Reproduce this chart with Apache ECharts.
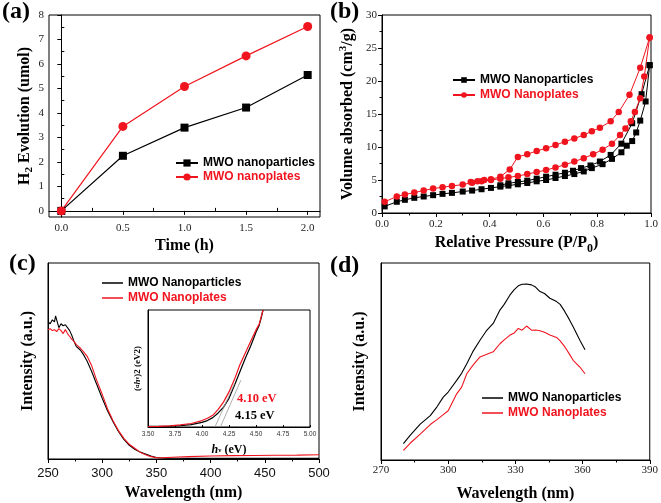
<!DOCTYPE html>
<html>
<head>
<meta charset="utf-8">
<script src="https://cdn.jsdelivr.net/npm/echarts@6/dist/echarts.min.js"></script>
<style>
html,body{margin:0;padding:0;background:#fff;}
#chart{width:661px;height:503px;}
</style>
</head>
<body>
<div id="chart"></div>
<script>
// ---------- Panel (a): H2 evolution ----------
const timeH = [0, 0.5, 1.0, 1.5, 2.0];
const h2Particles = [0, 2.25, 3.4, 4.22, 5.55];
const h2Plates = [0, 3.45, 5.08, 6.33, 7.53];
const aTicksX = [0, 0.5, 1.0, 1.5, 2.0];
const aMinorX = [0.25, 0.75, 1.25, 1.75];
const aTicksY = [0, 1, 2, 3, 4, 5, 6, 7, 8];
const aMinorY = [0.5, 1.5, 2.5, 3.5, 4.5, 5.5, 6.5, 7.5];

// ---------- Panel (b): N2 isotherms ----------
const pPartAds = [0.01,0.055,0.085,0.12,0.155,0.19,0.225,0.26,0.30,0.335,0.37,0.405,0.44,0.47,0.505,0.54,0.575,0.61,0.645,0.68,0.715,0.75,0.78,0.82,0.855,0.89,0.91,0.93,0.945,0.96,0.98,0.995];
const vPartAds = [1.0,1.7,2.0,2.3,2.5,2.7,2.9,3.05,3.25,3.4,3.6,3.8,4.0,4.15,4.35,4.55,4.8,5.0,5.3,5.6,5.9,6.3,6.8,7.4,8.2,9.2,10.2,10.9,12.2,14.0,16.9,22.4];
const pPartDes = [0.995,0.965,0.93,0.89,0.85,0.81,0.775,0.74,0.71,0.68,0.645,0.61,0.575,0.54,0.505,0.47,0.44];
const vPartDes = [22.4,18.0,13.6,10.5,8.8,7.8,7.2,6.8,6.4,6.1,5.8,5.5,5.2,4.9,4.7,4.5,4.2];
const pPlateAds = [0.01,0.055,0.085,0.12,0.155,0.19,0.225,0.26,0.30,0.335,0.37,0.405,0.44,0.47,0.505,0.54,0.575,0.61,0.645,0.68,0.715,0.75,0.785,0.82,0.855,0.885,0.905,0.925,0.94,0.96,0.975,0.995];
const vPlateAds = [1.7,2.5,2.8,3.1,3.4,3.7,3.9,4.1,4.3,4.6,4.8,5.0,5.2,5.4,5.6,5.9,6.2,6.5,6.9,7.3,7.8,8.3,8.9,9.6,10.5,11.8,12.8,13.9,15.3,17.4,20.7,26.6];
const pPlateDes = [0.995,0.96,0.92,0.88,0.85,0.81,0.78,0.75,0.715,0.68,0.645,0.61,0.575,0.54,0.505,0.475,0.44,0.405,0.38,0.355,0.33];
const vPlateDes = [26.6,22.0,17.9,15.3,13.9,12.9,12.4,11.8,11.3,10.8,10.3,9.8,9.4,8.9,8.5,6.6,5.5,5.1,5.0,4.8,4.7];

// ---------- Panel (c): UV-vis absorption ----------
const wlC = [250,252,254,256,257,258,260,262,264,266,268,270,272,274,276,278,280,283,286,290,295,300,305,310,315,320,325,330,335,340,345,350,355,360,370,380,400,420,440,460,480,500];
const absPart = [0.70,0.69,0.71,0.70,0.73,0.72,0.67,0.69,0.68,0.685,0.67,0.655,0.63,0.60,0.575,0.565,0.555,0.53,0.50,0.45,0.38,0.31,0.245,0.19,0.14,0.10,0.07,0.05,0.035,0.025,0.015,0.008,0.005,0.004,0.004,0.003,0.003,0.003,0.003,0.003,0.003,0.003];
const absPlate = [0.66,0.665,0.655,0.66,0.66,0.65,0.665,0.655,0.64,0.66,0.64,0.625,0.61,0.60,0.585,0.575,0.565,0.545,0.525,0.48,0.40,0.33,0.255,0.195,0.145,0.105,0.075,0.055,0.035,0.022,0.012,0.006,0.006,0.008,0.01,0.012,0.015,0.017,0.018,0.019,0.02,0.022];

// ---------- Inset: Tauc plot ----------
const evInset = [3.50,3.60,3.70,3.80,3.90,4.00,4.05,4.10,4.15,4.20,4.25,4.30,4.35,4.40,4.45,4.50,4.53,4.55,4.565];
const taucPart = [0.005,0.005,0.007,0.012,0.02,0.04,0.055,0.08,0.12,0.17,0.245,0.355,0.47,0.585,0.69,0.81,0.87,0.94,1.0];
const taucPlate = [0.004,0.006,0.01,0.018,0.03,0.055,0.075,0.10,0.15,0.215,0.30,0.405,0.53,0.63,0.73,0.83,0.88,0.95,1.0];
const tangentPlateX = [4.12, 4.30];
const tangentPlateY = [0, 0.37];
const tangentPartX = [4.17, 4.36];
const tangentPartY = [0, 0.40];
const gapLabels = ['4.10 eV', '4.15 eV'];

// ---------- Panel (d): PL ----------
const wlD = [280,283,287.5,292,295,297.8,300,303.8,306,308.3,311,314.2,317,320.1,323.1,325,327.6,329.5,331.3,333,335,337.2,339,341,343,345.4,348.4,350,352.1,354,355.8,358.8,361.1];
const plPart = [0.083,0.125,0.182,0.225,0.27,0.319,0.345,0.404,0.44,0.489,0.55,0.608,0.655,0.693,0.761,0.79,0.838,0.865,0.884,0.892,0.893,0.889,0.878,0.855,0.845,0.821,0.804,0.79,0.753,0.715,0.676,0.608,0.56];
const plPlate = [0.049,0.085,0.131,0.18,0.205,0.23,0.25,0.336,0.37,0.438,0.48,0.523,0.535,0.549,0.59,0.61,0.634,0.645,0.668,0.659,0.68,0.659,0.66,0.656,0.648,0.635,0.622,0.605,0.574,0.54,0.506,0.472,0.438];

const RED = '#f0141e';
const BLK = '#000000';
const SERIF = '"Liberation Serif", "DejaVu Serif", serif';
const SANS = '"Liberation Sans", Arial, sans-serif';

function zip(xs, ys) { return xs.map((x, i) => [x, ys[i]]); }

const tickLbl = { fontFamily: SERIF, fontSize: 11, color: '#222' };
const titleStyle = { fontFamily: SERIF, fontWeight: 'bold', fontSize: 16, color: '#000' };
const axLine = { show: true, lineStyle: { color: '#000', width: 1 } };
const legText = { fontFamily: SANS, fontWeight: 'bold', fontSize: 12, color: BLK };

const chart = echarts.init(document.getElementById('chart'), null, { renderer: 'canvas' });

const option = {
  backgroundColor: '#ffffff',
  animation: false,
  grid: [
    { left: 49, top: 15, width: 271, height: 202, show: true, borderColor: '#000', borderWidth: 1 },
    { left: 382, top: 15, width: 269, height: 198, show: true, borderColor: '#000', borderWidth: 1 },
    { left: 48, top: 263, width: 271, height: 196, show: true, borderColor: '#000', borderWidth: 1 },
    { left: 148, top: 310, width: 162, height: 117, show: true, borderColor: '#000', borderWidth: 1 },
    { left: 381, top: 263, width: 270, height: 197, show: true, borderColor: '#000', borderWidth: 1 }
  ],
  xAxis: [
    { gridIndex: 0, type: 'value', min: -0.1, max: 2.1, position: 'bottom',
      axisLine: axLine, splitLine: { show: false },
      axisTick: { show: true, length: 4, customValues: aTicksX, lineStyle: { color: '#000' } },
      axisLabel: { customValues: aTicksX, formatter: v => v.toFixed(1), margin: 6, ...tickLbl },
      name: 'Time (h)', nameLocation: 'middle', nameGap: 21, nameTextStyle: titleStyle },
    { gridIndex: 0, type: 'value', min: -0.1, max: 2.1, position: 'bottom',
      axisLine: { show: false }, splitLine: { show: false },
      axisTick: { show: true, inside: true, length: 3, customValues: aMinorX, lineStyle: { color: '#000' } },
      axisLabel: { show: false } },
    { gridIndex: 1, type: 'value', min: 0, max: 1, interval: 0.2,
      axisLine: axLine, splitLine: { show: false },
      axisTick: { show: true, length: 4, lineStyle: { color: '#000' } },
      minorTick: { show: true, splitNumber: 2, length: 2.5, lineStyle: { color: '#000' } },
      axisLabel: { formatter: v => v.toFixed(1), margin: 6, ...tickLbl },
      name: 'Relative Pressure (P/P{sub|0})', nameLocation: 'middle', nameGap: 21,
      nameTextStyle: { ...titleStyle, lineHeight: 18,
        rich: { sub: { fontFamily: SERIF, fontWeight: 'bold', fontSize: 12, verticalAlign: 'bottom', lineHeight: 10, padding: [0, 0, -3, 0] } } } },
    { gridIndex: 2, type: 'value', min: 250, max: 500, interval: 50,
      axisLine: axLine, splitLine: { show: false },
      axisTick: { show: true, length: 4, lineStyle: { color: '#000' } },
      minorTick: { show: true, splitNumber: 2, length: 2.5, lineStyle: { color: '#000' } },
      axisLabel: { margin: 8, fontFamily: SANS, fontSize: 13, color: '#111' },
      name: 'Wavelength (nm)', nameLocation: 'middle', nameGap: 26, nameTextStyle: titleStyle },
    { gridIndex: 3, type: 'value', min: 3.5, max: 5.0, interval: 0.25,
      axisLine: axLine, splitLine: { show: false },
      axisTick: { show: true, inside: true, length: 2, lineStyle: { color: '#000' } },
      axisLabel: { formatter: v => v.toFixed(2), margin: 4, fontFamily: SANS, fontSize: 6.5, color: '#333' },
      name: '{hi|h}{nu|ν} (eV)', nameLocation: 'middle', nameGap: 17,
      nameTextStyle: { fontFamily: SERIF, fontWeight: 'bold', fontSize: 12, color: '#000',
        rich: { hi: { fontFamily: SERIF, fontWeight: 'bold', fontStyle: 'italic', fontSize: 12 }, nu: { fontFamily: SERIF, fontSize: 7 } } } },
    { gridIndex: 4, type: 'value', min: 270, max: 390, interval: 30,
      axisLine: axLine, splitLine: { show: false },
      axisTick: { show: true, length: 4, lineStyle: { color: '#000' } },
      minorTick: { show: true, splitNumber: 2, length: 2.5, lineStyle: { color: '#000' } },
      axisLabel: { margin: 5, ...tickLbl },
      name: 'Wavelength (nm)', nameLocation: 'middle', nameGap: 26, nameTextStyle: titleStyle }
  ],
  yAxis: [
    { gridIndex: 0, type: 'value', min: -0.25, max: 8, position: 'left',
      axisLine: axLine, splitLine: { show: false },
      axisTick: { show: true, length: 4, customValues: aTicksY, lineStyle: { color: '#000' } },
      axisLabel: { customValues: aTicksY, margin: 5, ...tickLbl },
      name: '{n|H}{s|2}{n| Evolution (umol)}', nameLocation: 'middle', nameGap: 12,
      nameTextStyle: { ...titleStyle,
        rich: { n: { fontFamily: SERIF, fontWeight: 'bold', fontSize: 16, lineHeight: 20 },
                s: { fontFamily: SERIF, fontWeight: 'bold', fontSize: 11, lineHeight: 10, verticalAlign: 'bottom' } } } },
    { gridIndex: 0, type: 'value', min: -0.25, max: 8, position: 'left',
      axisLine: { show: false }, splitLine: { show: false },
      axisTick: { show: true, inside: true, length: 3, customValues: aMinorY, lineStyle: { color: '#000' } },
      axisLabel: { show: false } },
    { gridIndex: 1, type: 'value', min: 0, max: 30, interval: 5,
      axisLine: axLine, splitLine: { show: false },
      axisTick: { show: true, length: 4, lineStyle: { color: '#000' } },
      minorTick: { show: true, splitNumber: 2, length: 2.5, lineStyle: { color: '#000' } },
      axisLabel: { margin: 5, ...tickLbl },
      name: '{n|Volume absorbed (cm}{sup|3}{n|/g)}', nameLocation: 'middle', nameGap: 24,
      nameTextStyle: { ...titleStyle,
        rich: { n: { fontFamily: SERIF, fontWeight: 'bold', fontSize: 16, lineHeight: 20 },
                sup: { fontFamily: SERIF, fontWeight: 'bold', fontSize: 11, lineHeight: 10, verticalAlign: 'top' } } } },
    { gridIndex: 2, type: 'value', min: 0, max: 1,
      axisLine: axLine, splitLine: { show: false }, axisTick: { show: false }, axisLabel: { show: false },
      name: 'Intensity (a.u.)', nameLocation: 'middle', nameGap: 12, nameTextStyle: titleStyle },
    { gridIndex: 3, type: 'value', min: 0, max: 1,
      axisLine: axLine, splitLine: { show: false }, axisTick: { show: false }, axisLabel: { show: false },
      name: '({g|α}{b|h}{g|ν}){t|2} (eV{t|2})', nameLocation: 'middle', nameGap: 6,
      nameTextStyle: { fontFamily: SERIF, fontWeight: 'bold', fontSize: 9, color: '#000',
        rich: { g: { fontFamily: SERIF, fontSize: 6 }, b: { fontFamily: SERIF, fontWeight: 'bold', fontStyle: 'italic', fontSize: 9 }, t: { fontFamily: SERIF, fontWeight: 'bold', fontSize: 9 } } } },
    { gridIndex: 4, type: 'value', min: 0, max: 1,
      axisLine: axLine, splitLine: { show: false }, axisTick: { show: false }, axisLabel: { show: false },
      name: 'Intensity (a.u.)', nameLocation: 'middle', nameGap: 13, nameTextStyle: titleStyle }
  ],
  legend: [
    { left: 175, top: 157, padding: 0, orient: 'vertical', itemWidth: 22, itemHeight: 9, itemGap: 2, selectedMode: false,
      textStyle: legText,
      data: [ { name: 'MWO nanoparticles', textStyle: { color: BLK } },
              { name: 'MWO nanoplates', textStyle: { color: RED } } ] },
    { left: 452, top: 74, padding: 0, orient: 'vertical', itemWidth: 22, itemHeight: 7, itemGap: 3, selectedMode: false,
      textStyle: legText,
      data: [ { name: 'MWO Nanoparticles', textStyle: { color: BLK } },
              { name: 'MWO Nanoplates', textStyle: { color: RED } } ] },
    { left: 102, top: 277, padding: 0, orient: 'vertical', itemWidth: 21, itemHeight: 1.5, itemGap: 3, selectedMode: false,
      textStyle: legText,
      data: [ { name: 'MWO Nanoparticles', icon: 'rect', itemStyle: { color: BLK }, textStyle: { color: BLK } },
              { name: 'MWO Nanoplates', icon: 'rect', itemStyle: { color: RED }, textStyle: { color: RED } } ] },
    { left: 482, top: 392, padding: 0, orient: 'vertical', itemWidth: 21, itemHeight: 1.5, itemGap: 3, selectedMode: false,
      textStyle: legText,
      data: [ { name: 'MWO Nanoparticles', icon: 'rect', itemStyle: { color: BLK }, textStyle: { color: BLK } },
              { name: 'MWO Nanoplates', icon: 'rect', itemStyle: { color: RED }, textStyle: { color: RED } } ] }
  ],
  graphic: [
    { type: 'text', left: 2, top: 0, style: { text: '(a)', fontFamily: SERIF, fontWeight: 'bold', fontSize: 24, fill: '#000' } },
    { type: 'text', left: 330, top: 0, style: { text: '(b)', fontFamily: SERIF, fontWeight: 'bold', fontSize: 24, fill: '#000' } },
    { type: 'text', left: 9, top: 252, style: { text: '(c)', fontFamily: SERIF, fontWeight: 'bold', fontSize: 24, fill: '#000' } },
    { type: 'text', left: 330, top: 254, style: { text: '(d)', fontFamily: SERIF, fontWeight: 'bold', fontSize: 24, fill: '#000' } },
    { type: 'text', left: 237, top: 392, z: 100, style: { text: gapLabels[0], fontFamily: SERIF, fontWeight: 'bold', fontSize: 12.5, fill: RED } },
    { type: 'text', left: 235, top: 409, z: 100, style: { text: gapLabels[1], fontFamily: SERIF, fontWeight: 'bold', fontSize: 12.5, fill: BLK } }
  ],
  series: [
    // (a)
    { name: 'MWO nanoparticles', type: 'line', xAxisIndex: 0, yAxisIndex: 0, data: zip(timeH, h2Particles),
      symbol: 'rect', symbolSize: 8, lineStyle: { color: BLK, width: 1.2 }, itemStyle: { color: BLK } },
    { name: 'MWO nanoplates', type: 'line', xAxisIndex: 0, yAxisIndex: 0, data: zip(timeH, h2Plates),
      symbol: 'circle', symbolSize: 9, lineStyle: { color: RED, width: 1.2 }, itemStyle: { color: RED } },
    // (b)
    { name: 'MWO Nanoparticles', type: 'line', xAxisIndex: 2, yAxisIndex: 2, data: zip(pPartAds, vPartAds),
      symbol: 'rect', symbolSize: 6, lineStyle: { color: BLK, width: 1 }, itemStyle: { color: BLK } },
    { name: 'MWO Nanoparticles', type: 'line', xAxisIndex: 2, yAxisIndex: 2, data: zip(pPartDes, vPartDes),
      symbol: 'rect', symbolSize: 6, lineStyle: { color: BLK, width: 1 }, itemStyle: { color: BLK } },
    { name: 'MWO Nanoplates', type: 'line', xAxisIndex: 2, yAxisIndex: 2, data: zip(pPlateAds, vPlateAds),
      symbol: 'circle', symbolSize: 6.5, lineStyle: { color: RED, width: 1 }, itemStyle: { color: RED } },
    { name: 'MWO Nanoplates', type: 'line', xAxisIndex: 2, yAxisIndex: 2, data: zip(pPlateDes, vPlateDes),
      symbol: 'circle', symbolSize: 6.5, lineStyle: { color: RED, width: 1 }, itemStyle: { color: RED } },
    // (c)
    { name: 'MWO Nanoparticles', type: 'line', xAxisIndex: 3, yAxisIndex: 3, data: zip(wlC, absPart),
      symbol: 'none', lineStyle: { color: BLK, width: 1.1 }, itemStyle: { color: BLK } },
    { name: 'MWO Nanoplates', type: 'line', xAxisIndex: 3, yAxisIndex: 3, data: zip(wlC, absPlate),
      symbol: 'none', lineStyle: { color: RED, width: 1.1 }, itemStyle: { color: RED } },
    // inset
    { name: 'MWO Nanoparticles', type: 'line', xAxisIndex: 4, yAxisIndex: 4, data: zip(evInset, taucPart),
      symbol: 'none', lineStyle: { color: BLK, width: 1.2 }, itemStyle: { color: BLK } },
    { name: 'MWO Nanoplates', type: 'line', xAxisIndex: 4, yAxisIndex: 4, data: zip(evInset, taucPlate),
      symbol: 'none', lineStyle: { color: RED, width: 1.2 }, itemStyle: { color: RED } },
    { name: 'tangent plates', type: 'line', xAxisIndex: 4, yAxisIndex: 4, data: zip(tangentPlateX, tangentPlateY),
      symbol: 'none', lineStyle: { color: '#9a9a9a', width: 0.8 }, itemStyle: { color: '#9a9a9a' } },
    { name: 'tangent particles', type: 'line', xAxisIndex: 4, yAxisIndex: 4, data: zip(tangentPartX, tangentPartY),
      symbol: 'none', lineStyle: { color: '#9a9a9a', width: 0.8 }, itemStyle: { color: '#9a9a9a' } },
    // (d)
    { name: 'MWO Nanoparticles', type: 'line', xAxisIndex: 5, yAxisIndex: 5, data: zip(wlD, plPart),
      symbol: 'none', lineStyle: { color: BLK, width: 1.1 }, itemStyle: { color: BLK } },
    { name: 'MWO Nanoplates', type: 'line', xAxisIndex: 5, yAxisIndex: 5, data: zip(wlD, plPlate),
      symbol: 'none', lineStyle: { color: RED, width: 1.1 }, itemStyle: { color: RED } }
  ]
};
chart.setOption(option);
</script>
</body>
</html>
